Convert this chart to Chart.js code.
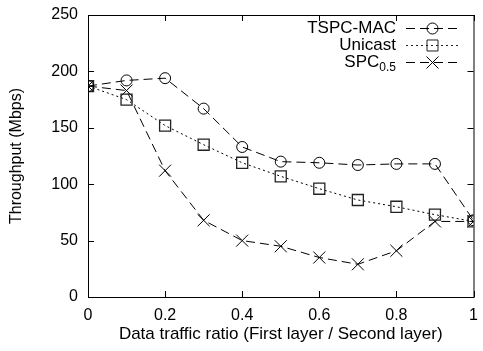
<!DOCTYPE html>
<html>
<head>
<meta charset="utf-8">
<script src="https://cdn.jsdelivr.net/npm/chart.js@4"></script>
<style>
  html, body { margin: 0; padding: 0; background: #fff; }
  #wrap { width: 483px; height: 351px; }
</style>
</head>
<body>
<div id="wrap"><canvas id="chart" width="483" height="351"></canvas></div>
<script>
// data
const ratios = [0, 0.1, 0.2, 0.3, 0.4, 0.5, 0.6, 0.7, 0.8, 0.9, 1.0];
const tspcMac = [187, 192, 194, 167, 133, 120, 119, 117, 118, 118, 68];
const unicast = [187, 175, 152, 135, 119, 107, 96, 86, 80, 73, 67];
const spc05 = [187, 183, 112, 68, 50, 45, 35, 29, 41, 67, 67];
const xTicks = [0, 0.2, 0.4, 0.6, 0.8, 1];
const yTicks = [0, 50, 100, 150, 200, 250];

const FONT = "'Liberation Sans', Arial, Helvetica, sans-serif";

function toPoints(vals) {
  return ratios.map((r, i) => ({ x: r, y: vals[i] }));
}

// frame + inward ticks on all four sides (gnuplot style)
const framePlugin = {
  id: "frame",
  afterDatasetsDraw(chart) {
    const { ctx, chartArea: a, scales } = chart;
    ctx.save();
    ctx.strokeStyle = "#000";
    ctx.lineWidth = 1;
    ctx.setLineDash([]);
    ctx.strokeRect(a.left + 0.5, a.top + 0.5, a.right - a.left, a.bottom - a.top);
    const t = 6;
    ctx.beginPath();
    xTicks.forEach(v => {
      const px = Math.round(scales.x.getPixelForValue(v)) + 0.5;
      ctx.moveTo(px, a.bottom); ctx.lineTo(px, a.bottom - t);
      ctx.moveTo(px, a.top); ctx.lineTo(px, a.top + t);
    });
    yTicks.forEach(v => {
      const py = Math.round(scales.y.getPixelForValue(v)) + 0.5;
      ctx.moveTo(a.left, py); ctx.lineTo(a.left + t, py);
      ctx.moveTo(a.right, py); ctx.lineTo(a.right - t, py);
    });
    ctx.stroke();
    ctx.restore();
  }
};

// legend: text right aligned, line sample with marker to the right
const legendPlugin = {
  id: "gpLegend",
  afterDraw(chart) {
    const { ctx } = chart;
    const textRight = 396;
    const x0 = 406, x1 = 459;
    const rows = [28, 45, 62];
    ctx.save();
    chart.data.datasets.forEach((ds, i) => {
      const y = rows[i];
      ctx.fillStyle = "#000";
      ctx.font = "17px " + FONT;
      ctx.textBaseline = "middle";
      ctx.textAlign = "right";
      if (ds.sub) {
        ctx.font = "12px " + FONT;
        const subW = ctx.measureText(ds.sub).width;
        ctx.fillText(ds.sub, textRight, y + 6);
        ctx.font = "17px " + FONT;
        ctx.fillText(ds.label, textRight - subW, y);
      } else {
        ctx.fillText(ds.label, textRight, y);
      }
      ctx.strokeStyle = ds.pointBorderColor;
      ctx.lineWidth = 1;
      ctx.setLineDash(ds.borderDash);
      ctx.beginPath();
      ctx.moveTo(x0, y + 0.5);
      ctx.lineTo(x1, y + 0.5);
      ctx.stroke();
      ctx.setLineDash([]);
      ctx.fillStyle = "rgba(0,0,0,0)";
      Chart.helpers.drawPoint(ctx, {
        pointStyle: ds.pointStyle,
        radius: ds.pointRadius,
        borderWidth: 1
      }, (x0 + x1) / 2, y + 0.5);
    });
    ctx.restore();
  }
};

new Chart(document.getElementById("chart"), {
  type: "scatter",
  data: {
    datasets: [
      {
        label: "TSPC-MAC",
        data: toPoints(tspcMac),
        showLine: true,
        borderColor: "#000",
        backgroundColor: "rgba(0,0,0,0)",
        borderWidth: 1,
        borderDash: [9, 5],
        pointStyle: "circle",
        pointRadius: 5.5,
        pointBackgroundColor: "rgba(0,0,0,0)",
        pointBorderColor: "#000",
        pointBorderWidth: 1
      },
      {
        label: "Unicast",
        data: toPoints(unicast),
        showLine: true,
        borderColor: "#000",
        backgroundColor: "rgba(0,0,0,0)",
        borderWidth: 1,
        borderDash: [2, 3],
        pointStyle: "rect",
        pointRadius: 7.8,
        pointBackgroundColor: "rgba(0,0,0,0)",
        pointBorderColor: "#222",
        pointBorderWidth: 1.3
      },
      {
        label: "SPC",
        sub: "0.5",
        data: toPoints(spc05),
        showLine: true,
        borderColor: "#000",
        backgroundColor: "rgba(0,0,0,0)",
        borderWidth: 1,
        borderDash: [9, 5],
        pointStyle: "crossRot",
        pointRadius: 8.5,
        pointBorderColor: "#000",
        pointBorderWidth: 1
      }
    ]
  },
  options: {
    responsive: false,
    animation: false,
    layout: { padding: { top: 15, right: 3, left: 0, bottom: 0 } },
    plugins: {
      legend: { display: false },
      tooltip: { enabled: false }
    },
    scales: {
      x: {
        type: "linear",
        min: 0,
        max: 1,
        grid: { display: false, drawTicks: false },
        border: { display: false },
        afterBuildTicks(scale) {
          scale.ticks = xTicks.map(v => ({ value: v }));
        },
        afterFit(scale) {
          scale.height = 54;
          scale.paddingLeft = 0;
          scale.paddingRight = 0;
        },
        ticks: {
          color: "#000",
          padding: 9,
          maxRotation: 0,
          autoSkip: false,
          font: { family: FONT, size: 16 },
          callback: v => String(v)
        },
        title: {
          display: true,
          text: "Data traffic ratio (First layer / Second layer)",
          color: "#000",
          font: { family: FONT, size: 17 },
          padding: { top: 0, bottom: 6 }
        }
      },
      y: {
        min: 0,
        max: 250,
        grid: { display: false, drawTicks: false },
        border: { display: false },
        afterBuildTicks(scale) {
          scale.ticks = yTicks.map(v => ({ value: v }));
        },
        afterFit(scale) {
          scale.width = 88;
          scale.paddingTop = 0;
          scale.paddingBottom = 0;
        },
        ticks: {
          color: "#000",
          padding: 10,
          autoSkip: false,
          font: { family: FONT, size: 16 }
        },
        title: {
          display: true,
          text: "Throughput (Mbps)",
          color: "#000",
          font: { family: FONT, size: 16 },
          padding: { top: 7, bottom: 0 }
        }
      }
    }
  },
  plugins: [framePlugin, legendPlugin]
});
</script>
</body>
</html>
